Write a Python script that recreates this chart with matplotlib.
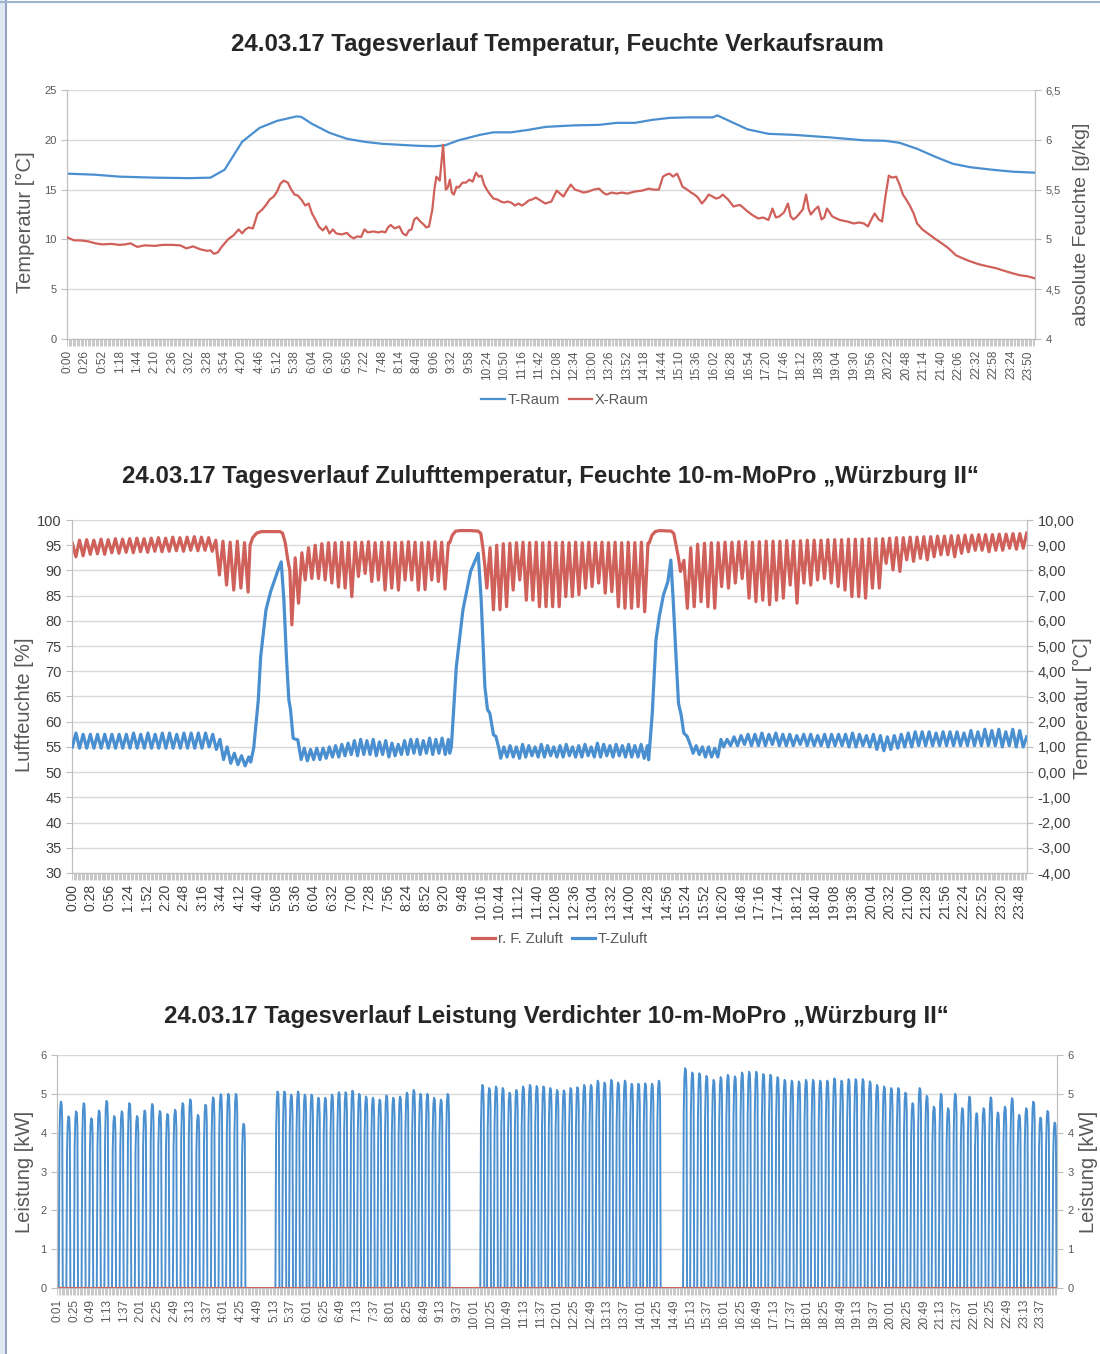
import numpy as np
import matplotlib
matplotlib.use("Agg")
import matplotlib.pyplot as plt
from matplotlib.lines import Line2D
from matplotlib.patches import Rectangle

plt.rcParams['font.family'] = ['Liberation Sans', 'DejaVu Sans']

BLUE = "#4a8fd0"
RED = "#d0605a"
GRID = "#d9d9d9"
SPINE = "#bfbfbf"
TXT = "#595959"

# ---------------- Diagramm 1: Verkaufsraum ----------------
t_raum_min = [0, 40, 78, 130, 182, 213, 234, 260, 286, 312, 341, 348, 364, 390, 416, 442,
              468, 494, 520, 546, 562, 582, 614, 634, 660, 686, 712, 754, 791, 817, 844,
              870, 896, 922, 960, 967, 991, 1012, 1043, 1080, 1133, 1185, 1217, 1238, 1264,
              1291, 1317, 1343, 1375, 1406, 1439]
t_raum = [16.6, 16.5, 16.3, 16.2, 16.15, 16.2, 17.0, 19.8, 21.2, 21.9, 22.35, 22.3, 21.6,
          20.7, 20.1, 19.8, 19.6, 19.5, 19.4, 19.35, 19.45, 19.95, 20.5, 20.75, 20.75, 21.0,
          21.3, 21.45, 21.5, 21.7, 21.7, 22.0, 22.2, 22.25, 22.25, 22.45, 21.7, 21.05, 20.6,
          20.5, 20.25, 19.95, 19.9, 19.7, 19.1, 18.3, 17.6, 17.25, 17.0, 16.8, 16.7]

x_raum_min = [0, 10, 20, 31, 42, 52, 65, 78, 86, 94, 104, 115, 130, 142, 156, 168, 177, 187,
              198, 208, 213, 218, 224, 229, 234, 239, 247, 255, 260, 265, 270, 276, 283, 290,
              296, 301, 307, 312, 317, 322, 328, 333, 338, 343, 348, 354, 359, 364, 369, 374,
              380, 385, 390, 395, 400, 408, 416, 421, 426, 431, 437, 442, 447, 455, 463, 468,
              473, 477, 481, 487, 494, 499, 504, 508, 512, 516, 520, 525, 530, 534, 538, 543,
              546, 549, 554, 559, 563, 566, 569, 572, 575, 579, 582, 588, 593, 598, 603, 608,
              612, 616, 620, 624, 629, 634, 640, 645, 650, 655, 660, 666, 671, 676, 681, 686,
              691, 697, 704, 711, 720, 728, 733, 738, 744, 749, 755, 760, 768, 775, 783, 791,
              797, 802, 810, 817, 825, 833, 844, 855, 865, 872, 880, 886, 891, 896, 901, 907,
              911, 915, 922, 928, 933, 938, 944, 949, 954, 960, 965, 970, 975, 983, 991, 996,
              1001, 1007, 1012, 1020, 1028, 1035, 1043, 1049, 1054, 1059, 1066, 1072, 1076,
              1080, 1084, 1088, 1094, 1099, 1103, 1106, 1112, 1117, 1122, 1126, 1130, 1138,
              1149, 1160, 1170, 1178, 1185, 1191, 1196, 1201, 1207, 1212, 1217, 1222, 1227,
              1233, 1238, 1243, 1248, 1254, 1259, 1264, 1272, 1280, 1290, 1301, 1311, 1322,
              1332, 1343, 1356, 1369, 1382, 1396, 1406, 1417, 1428, 1439]
x_raum = [5.02, 4.99, 4.99, 4.98, 4.96, 4.95, 4.955, 4.945, 4.95, 4.96, 4.925, 4.94, 4.935,
          4.945, 4.945, 4.94, 4.91, 4.93, 4.9, 4.885, 4.89, 4.855, 4.87, 4.92, 4.96, 5.0,
          5.04, 5.1, 5.06, 5.1, 5.12, 5.11, 5.26, 5.3, 5.35, 5.4, 5.43, 5.48, 5.56, 5.59,
          5.57, 5.5, 5.45, 5.44, 5.4, 5.34, 5.36, 5.26, 5.2, 5.13, 5.09, 5.13, 5.06, 5.1,
          5.06, 5.05, 5.065, 5.03, 5.01, 5.03, 5.025, 5.1, 5.07, 5.08, 5.07, 5.08, 5.07,
          5.12, 5.145, 5.11, 5.13, 5.06, 5.04, 5.09, 5.1, 5.2, 5.22, 5.18, 5.15, 5.12, 5.13,
          5.3, 5.5, 5.63, 5.59, 5.95, 5.5, 5.52, 5.6, 5.47, 5.45, 5.53, 5.52, 5.57, 5.57,
          5.6, 5.58, 5.67, 5.63, 5.64, 5.55, 5.5, 5.45, 5.41, 5.4, 5.38, 5.37, 5.38, 5.37,
          5.34, 5.36, 5.34, 5.36, 5.39, 5.4, 5.42, 5.39, 5.36, 5.38, 5.49, 5.46, 5.43, 5.5,
          5.55, 5.5, 5.49, 5.47, 5.48, 5.5, 5.51, 5.47, 5.45, 5.47, 5.46, 5.47, 5.46, 5.48,
          5.49, 5.51, 5.5, 5.5, 5.63, 5.65, 5.66, 5.63, 5.66, 5.6, 5.53, 5.5, 5.47, 5.45,
          5.42, 5.36, 5.4, 5.45, 5.43, 5.41, 5.42, 5.45, 5.4, 5.33, 5.34, 5.345, 5.31, 5.28,
          5.24, 5.21, 5.22, 5.195, 5.31, 5.22, 5.23, 5.27, 5.36, 5.23, 5.2, 5.22, 5.25, 5.3,
          5.45, 5.3, 5.25, 5.3, 5.33, 5.2, 5.22, 5.31, 5.23, 5.195, 5.18, 5.16, 5.17, 5.16,
          5.13, 5.2, 5.26, 5.2, 5.18, 5.43, 5.64, 5.62, 5.63, 5.55, 5.45, 5.4, 5.33, 5.26,
          5.16, 5.1, 5.06, 5.01, 4.96, 4.91, 4.84, 4.81, 4.78, 4.75, 4.73, 4.71, 4.68, 4.66,
          4.64, 4.63, 4.61]

# ---------------- Diagramm 2: Zuluft ----------------
# r. F. Zuluft [%]: Schwingungsabschnitte (Spitzen / Taeler) und Abtauphasen
rf_ab_span = (0, 265)
rf_ab_peak = [95.4, 96.0, 96.1, 96.0, 96.2, 96.1, 96.3, 96.2, 96.3, 96.4, 96.3, 96.4, 96.5,
              96.4, 96.6, 96.5, 96.6, 96.7, 96.6, 96.5, 96.0, 95.8, 95.6, 95.8, 95.5]
rf_ab_low = [92.7, 92.9, 93.2, 93.3, 93.2, 93.5, 93.4, 93.6, 93.5, 93.7, 93.6, 93.8, 93.7,
             93.8, 93.9, 93.8, 94.0, 93.9, 94.0, 93.8, 89.1, 87.1, 86.1, 86.5, 85.7]
rf_def1_t = [268, 272, 278, 285, 300, 313, 317, 321, 325, 328]
rf_def1 = [95.0, 96.5, 97.4, 97.7, 97.7, 97.7, 97.4, 95.5, 92.0, 90.0]
rf_c_span = (331, 567)
rf_c_low = [79.2, 83.5, 88.1, 88.4, 88.4, 88.1, 87.5, 86.7, 86.5, 84.8, 88.8, 89.4, 87.8,
            88.1, 86.1, 86.5, 86.1, 88.1, 88.1, 86.1, 86.2, 88.1, 87.8, 86.3]
rf_c_peak = [92.5, 93.5, 94.5, 95.0, 95.3, 95.5, 95.5, 95.6, 95.5, 95.6, 95.6, 95.7, 95.5,
             95.6, 95.6, 95.5, 95.6, 95.7, 95.6, 95.5, 95.6, 95.7, 95.6, 95.5]
rf_def2_t = [569, 573, 578, 585, 600, 612, 616, 619, 622]
rf_def2 = [95.5, 97.0, 97.8, 97.9, 97.9, 97.8, 97.3, 94.5, 91.0]
rf_d_span = (625, 868)
rf_d_low = [86.5, 82.2, 82.2, 82.8, 86.1, 88.1, 84.1, 84.1, 82.8, 82.8, 82.8, 82.8, 84.8,
            84.8, 85.2, 86.5, 86.8, 87.5, 85.5, 85.8, 82.8, 82.5, 82.5, 82.8, 81.8]
rf_d_peak = [94.5, 95.0, 95.3, 95.4, 95.5, 95.6, 95.5, 95.6, 95.5, 95.6, 95.5, 95.6, 95.5,
             95.6, 95.5, 95.6, 95.5, 95.6, 95.5, 95.6, 95.5, 95.6, 95.5, 95.6, 95.4]
rf_def3_t = [870, 874, 879, 885, 903, 907, 911, 914]
rf_def3 = [95.5, 97.0, 97.7, 97.9, 97.8, 97.3, 94.5, 92.5]
rf_e_span = (917, 1439)
rf_e_low = [89.8, 82.5, 82.8, 83.8, 82.8, 82.5, 86.8, 86.5, 87.5, 88.4, 84.5, 83.8, 84.1,
            83.2, 84.1, 84.5, 87.1, 83.5, 87.5, 87.1, 88.1, 88.4, 87.5, 86.8, 86.1, 84.8,
            84.8, 84.5, 86.5, 86.5, 91.4, 90.1, 89.8, 92.1, 91.8, 92.4, 92.1, 92.7, 93.1,
            93.1, 92.7, 93.4, 93.7, 94.0, 94.0, 93.7, 94.0, 94.0, 94.4, 94.2, 94.4]
rf_e_peak = [92.0, 94.5, 95.2, 95.4, 95.5, 95.5, 95.6, 95.6, 95.7, 95.7, 95.6, 95.7, 95.8,
             95.8, 95.8, 95.9, 95.8, 95.9, 96.0, 96.0, 96.0, 96.1, 96.1, 96.1, 96.2, 96.2,
             96.2, 96.3, 96.3, 96.3, 96.4, 96.5, 96.5, 96.6, 96.6, 96.7, 96.7, 96.8, 96.8,
             96.9, 96.9, 97.0, 97.0, 97.1, 97.1, 97.1, 97.2, 97.2, 97.3, 97.3, 97.4]

# T-Zuluft [°C]
tz_ab_span = (0, 266)
tz_ab_low = [1.0, 0.95, 0.95, 0.95, 0.95, 0.95, 0.95, 0.95, 0.95, 0.95, 0.95, 0.95, 0.95,
             0.95, 0.95, 0.95, 0.95, 0.95, 0.95, 1.0, 0.9, 0.5, 0.35, 0.3, 0.25]
tz_ab_high = [1.55, 1.5, 1.5, 1.5, 1.5, 1.5, 1.5, 1.5, 1.55, 1.5, 1.55, 1.5, 1.55, 1.55,
              1.5, 1.55, 1.55, 1.55, 1.55, 1.5, 1.3, 1.0, 0.75, 0.65, 0.6]
tz_def1_t = [269, 273.5, 280.4, 284, 292, 299, 309.5, 315, 319, 323, 326.5, 329, 333, 340]
tz_def1 = [0.4, 0.96, 2.86, 4.58, 6.44, 7.16, 7.96, 8.34, 6.82, 4.46, 2.86, 2.48, 1.34, 1.28]
tz_c_span = (345, 567)
tz_c_low = [0.5, 0.45, 0.5, 0.5, 0.55, 0.6, 0.6, 0.65, 0.7, 0.65, 0.7, 0.7, 0.65, 0.7, 0.6,
            0.65, 0.7, 0.7, 0.75, 0.7, 0.75, 0.7, 0.75, 0.7]
tz_c_high = [0.95, 0.9, 0.95, 0.95, 1.0, 1.05, 1.1, 1.15, 1.25, 1.3, 1.25, 1.3, 1.2, 1.25,
             1.15, 1.1, 1.25, 1.3, 1.3, 1.25, 1.35, 1.3, 1.35, 1.3]
tz_def2_t = [569, 571.5, 579, 589, 600.5, 612, 616.5, 622, 626, 629.5, 635, 638.6, 643]
tz_def2 = [0.75, 1.0, 4.18, 6.44, 7.96, 8.68, 6.82, 3.4, 2.48, 2.34, 1.48, 1.42, 0.96]
tz_d_span = (646, 867)
tz_d_low = [0.55, 0.6, 0.6, 0.55, 0.6, 0.65, 0.6, 0.6, 0.65, 0.6, 0.6, 0.65, 0.6, 0.6, 0.65,
            0.6, 0.6, 0.65, 0.6, 0.65, 0.6, 0.6, 0.6, 0.55]
tz_d_high = [1.0, 1.05, 1.0, 1.1, 1.05, 1.0, 1.1, 1.05, 1.0, 1.05, 1.1, 1.0, 1.05, 1.1, 1.0,
             1.15, 1.1, 1.05, 1.1, 1.05, 1.1, 1.05, 1.1, 1.05]
tz_def3_t = [869, 874.5, 880, 885, 891.4, 898, 902.5, 906, 910, 914, 918, 922, 927, 932.7]
tz_def3 = [0.49, 2.34, 5.24, 6.17, 7.03, 7.56, 8.41, 6.83, 4.72, 2.73, 2.27, 1.55, 1.42, 1.02]
tz_e1_span = (936, 978)
tz_e1_low = [0.75, 0.7, 0.6, 0.6, 0.6]
tz_e1_high = [1.05, 1.0, 1.0, 0.95, 1.3]
tz_e2_span = (982, 1439)
tz_e2_low = [1.0, 1.05, 1.05, 1.1, 1.05, 1.05, 1.05, 1.1, 1.05, 1.05, 1.05, 1.1, 1.05, 1.05,
             1.05, 1.0, 1.05, 1.05, 1.0, 1.0, 1.05, 1.0, 0.9, 0.85, 0.9, 0.95, 1.0, 1.0, 1.05,
             1.05, 1.05, 1.05, 1.05, 1.05, 1.05, 1.05, 1.05, 1.05, 1.05, 1.05, 1.0, 1.05, 1.0, 1.0]
tz_e2_high = [1.3, 1.4, 1.45, 1.5, 1.5, 1.55, 1.5, 1.55, 1.5, 1.5, 1.45, 1.5, 1.5, 1.45, 1.5,
              1.5, 1.5, 1.5, 1.55, 1.5, 1.45, 1.5, 1.45, 1.4, 1.45, 1.5, 1.55, 1.6, 1.6, 1.6,
              1.55, 1.6, 1.6, 1.6, 1.55, 1.65, 1.6, 1.7, 1.65, 1.7, 1.6, 1.7, 1.65, 1.4]

# ---------------- Diagramm 3: Verdichterleistung [kW] ----------------
p_block1_span = (6, 269)
p_block1 = [4.8, 4.42, 4.55, 4.76, 4.37, 4.57, 4.82, 4.43, 4.55, 4.76, 4.43, 4.57, 4.74,
            4.56, 4.48, 4.59, 4.76, 4.86, 4.46, 4.72, 4.91, 4.99, 5.0, 5.0, 4.23]
p_block2_span = (318, 563)
p_block2 = [5.06, 5.06, 4.98, 5.06, 4.98, 4.98, 4.9, 4.9, 4.98, 5.04, 5.04, 5.08, 5.0,
            4.93, 4.9, 4.85, 4.96, 4.9, 4.93, 5.03, 5.1, 5.0, 5.0, 4.9, 4.85, 5.0]
p_block3_span = (613, 867)
p_block3 = [5.23, 5.15, 5.19, 5.15, 5.03, 5.1, 5.19, 5.23, 5.2, 5.19, 5.15, 5.1, 5.09,
            5.15, 5.17, 5.23, 5.23, 5.34, 5.29, 5.36, 5.29, 5.34, 5.26, 5.26, 5.27, 5.26, 5.34]
p_block4_span = (905, 1437)
p_block4 = [5.66, 5.55, 5.53, 5.46, 5.36, 5.43, 5.49, 5.45, 5.55, 5.57, 5.57, 5.51, 5.49,
            5.43, 5.36, 5.34, 5.32, 5.36, 5.36, 5.34, 5.34, 5.4, 5.34, 5.38, 5.38, 5.38,
            5.32, 5.23, 5.19, 5.15, 5.15, 5.03, 4.76, 5.15, 4.95, 4.67, 5.0, 4.63, 5.0, 4.63,
            4.93, 4.5, 4.63, 4.91, 4.52, 4.67, 4.89, 4.46, 4.63, 4.8, 4.39, 4.56, 4.26]
p2_t = [1, 1440]
p2 = [0.0, 0.0]


def zigzag(span, first, second):
    vals = []
    for a, b in zip(first, second):
        vals += [a, b]
    return list(np.linspace(span[0], span[1], len(vals))), vals


def chain(parts):
    tt, vv = [], []
    for t, v in parts:
        tt += list(t)
        vv += list(v)
    return tt, vv


def pulses(span, peaks):
    tt, vv = [], []
    for t, p in zip(np.linspace(span[0], span[1], len(peaks)), peaks):
        tt += [t - 3.0, t - 2.0, t - 1.0, t, t + 1.2, t + 2.0, t + 2.8]
        vv += [0, 0.8 * p, 0.96 * p, p, 0.99 * p, 0.9 * p, 0]
    return tt, vv


def hm(m):
    m = int(round(m)) % 1440
    return "%d:%02d" % (m // 60, m % 60)


def style_axes(ax, label_pos, lab_size, ysize, xlim):
    ax.set_xlim(*xlim)
    ax.set_xticks(label_pos)
    ax.set_xticklabels([hm(m) for m in label_pos], rotation=90, fontsize=lab_size, color=TXT)
    ax.set_xticks(np.arange(np.ceil(xlim[0]), xlim[1], 2), minor=True)
    ax.tick_params(axis='x', which='both', length=5, width=0.6, color=SPINE, pad=3)
    ax.tick_params(axis='y', length=4, width=0.8, color=SPINE, labelsize=ysize, labelcolor=TXT)
    ax.grid(axis='y', color=GRID, lw=1.0)
    ax.set_axisbelow(True)
    ax.spines['top'].set_visible(False)
    for s in ['left', 'bottom', 'right']:
        ax.spines[s].set_color(SPINE)


def style_twin(axb, ysize, color):
    axb.tick_params(axis='y', length=4, width=0.8, color=SPINE, labelsize=ysize, labelcolor=color)
    axb.spines['top'].set_visible(False)
    for s in ['left', 'bottom', 'right']:
        axb.spines[s].set_color(SPINE)


fig = plt.figure(figsize=(11, 13.54), dpi=100)

# Rahmen
fig.patches.append(Rectangle((0, 0), 5 / 1100, 1, transform=fig.transFigure, color="#dfe8f2", zorder=0))
fig.lines.append(Line2D([5.5 / 1100, 5.5 / 1100], [0, 1], transform=fig.transFigure, color="#7f95b5", lw=1.2))
fig.lines.append(Line2D([0, 1], [1 - 1.5 / 1354, 1 - 1.5 / 1354], transform=fig.transFigure, color="#9fb3cc", lw=1.5))

TITLE_KW = dict(ha='center', va='center', fontsize=17.3, fontweight='bold', color="#262626")

# ---- Diagramm 1 ----
ax1 = fig.add_axes([67 / 1100, 1 - 339 / 1354, 968 / 1100, 249 / 1354])
ax1b = ax1.twinx()
l1, = ax1.plot(t_raum_min, t_raum, color=BLUE, lw=1.6, zorder=3)
l2, = ax1b.plot(x_raum_min, x_raum, color=RED, lw=1.6, zorder=3)
ax1.set_ylim(0, 25)
ax1.set_yticks(range(0, 26, 5))
ax1b.set_ylim(4, 6.5)
ax1b.set_yticks([4, 4.5, 5, 5.5, 6, 6.5])
ax1b.set_yticklabels(["4", "4,5", "5", "5,5", "6", "6,5"])
style_axes(ax1, list(range(0, 1440, 26)), 8.5, 8, (-0.5, 1439.5))
style_twin(ax1b, 8, TXT)
fig.text(557 / 1100, 1 - 45 / 1354, "24.03.17 Tagesverlauf Temperatur, Feuchte Verkaufsraum", **TITLE_KW)
fig.text(25 / 1100, 1 - 222 / 1354, "Temperatur [°C]", rotation=90, ha='center', va='center',
         fontsize=14.5, color=TXT)
fig.text(1082 / 1100, 1 - 224 / 1354, "absolute Feuchte [g/kg]", rotation=90, ha='center',
         va='center', fontsize=14, color=TXT)
fig.legend([l1, l2], ["T-Raum", "X-Raum"], loc='center', bbox_to_anchor=(565 / 1100, 1 - 400 / 1354),
           ncol=2, frameon=False, fontsize=10.5, handlelength=1.6, handletextpad=0.2,
           columnspacing=0.6, labelcolor=TXT)

# ---- Diagramm 2 ----
rf_t, rf_v = chain([zigzag(rf_ab_span, rf_ab_peak, rf_ab_low),
                    (rf_def1_t, rf_def1),
                    zigzag(rf_c_span, rf_c_low, rf_c_peak),
                    (rf_def2_t, rf_def2),
                    zigzag(rf_d_span, rf_d_low, rf_d_peak),
                    (rf_def3_t, rf_def3),
                    zigzag(rf_e_span, rf_e_low, rf_e_peak)])
tz_t, tz_v = chain([zigzag(tz_ab_span, tz_ab_low, tz_ab_high),
                    (tz_def1_t, tz_def1),
                    zigzag(tz_c_span, tz_c_low, tz_c_high),
                    (tz_def2_t, tz_def2),
                    zigzag(tz_d_span, tz_d_low, tz_d_high),
                    (tz_def3_t, tz_def3),
                    zigzag(tz_e1_span, tz_e1_low, tz_e1_high),
                    zigzag(tz_e2_span, tz_e2_low, tz_e2_high)])

ax2 = fig.add_axes([72 / 1100, 1 - 873 / 1354, 955 / 1100, 353 / 1354])
ax2b = ax2.twinx()
r2, = ax2.plot(rf_t, rf_v, color=RED, lw=2.3, zorder=3, solid_joinstyle='round')
b2, = ax2b.plot(tz_t, tz_v, color=BLUE, lw=2.3, zorder=3, solid_joinstyle='round')
ax2.set_ylim(30, 100)
ax2.set_yticks(range(30, 101, 5))
ax2b.set_ylim(-4, 10)
ax2b.set_yticks(range(-4, 11))
ax2b.set_yticklabels(["%d,00" % v for v in range(-4, 11)])
style_axes(ax2, list(range(0, 1440, 28)), 10, 10.5, (-0.5, 1439.5))
style_twin(ax2b, 10.5, "#404040")
ax2.tick_params(axis='y', labelcolor="#404040")
ax2.tick_params(axis='x', labelcolor="#404040")
fig.text(550 / 1100, 1 - 477 / 1354,
         "24.03.17 Tagesverlauf Zulufttemperatur, Feuchte 10-m-MoPro \u201eWürzburg II\u201c", **TITLE_KW)
fig.text(25 / 1100, 1 - 705 / 1354, "Luftfeuchte [%]", rotation=90, ha='center', va='center',
         fontsize=14.5, color=TXT)
fig.text(1082 / 1100, 1 - 708 / 1354, "Temperatur [°C]", rotation=90, ha='center',
         va='center', fontsize=14.5, color=TXT)
fig.legend([r2, b2], ["r. F. Zuluft", "T-Zuluft"], loc='center',
           bbox_to_anchor=(560 / 1100, 1 - 939 / 1354), ncol=2, frameon=False, fontsize=10.5,
           handlelength=1.6, handletextpad=0.2, columnspacing=0.6, labelcolor=TXT)

# ---- Diagramm 3 ----
pw_t, pw_v = chain([([1], [0]), pulses(p_block1_span, p_block1), pulses(p_block2_span, p_block2),
                    pulses(p_block3_span, p_block3), pulses(p_block4_span, p_block4),
                    ([1440], [0])])
ax3 = fig.add_axes([57 / 1100, 1 - 1288 / 1354, 1000 / 1100, 233 / 1354])
ax3b = ax3.twinx()
ax3.plot(pw_t, pw_v, color=BLUE, lw=1.4, zorder=3)
ax3.plot(p2_t, p2, color=RED, lw=2.2, zorder=4)
ax3.set_ylim(0, 6)
ax3b.set_ylim(0, 6)
ax3.set_yticks(range(0, 7))
ax3b.set_yticks(range(0, 7))
style_axes(ax3, list(range(1, 1440, 24)), 8.5, 8, (0.5, 1440.5))
style_twin(ax3b, 8, TXT)
fig.text(556 / 1100, 1 - 1017 / 1354,
         "24.03.17 Tagesverlauf Leistung Verdichter 10-m-MoPro \u201eWürzburg II\u201c", **TITLE_KW)
fig.text(25 / 1100, 1 - 1172 / 1354, "Leistung [kW]", rotation=90, ha='center', va='center',
         fontsize=14.5, color=TXT)
fig.text(1088 / 1100, 1 - 1172 / 1354, "Leistung [kW]", rotation=90, ha='center',
         va='center', fontsize=14.5, color=TXT)

fig.savefig("out.png", dpi=100, facecolor="white")
